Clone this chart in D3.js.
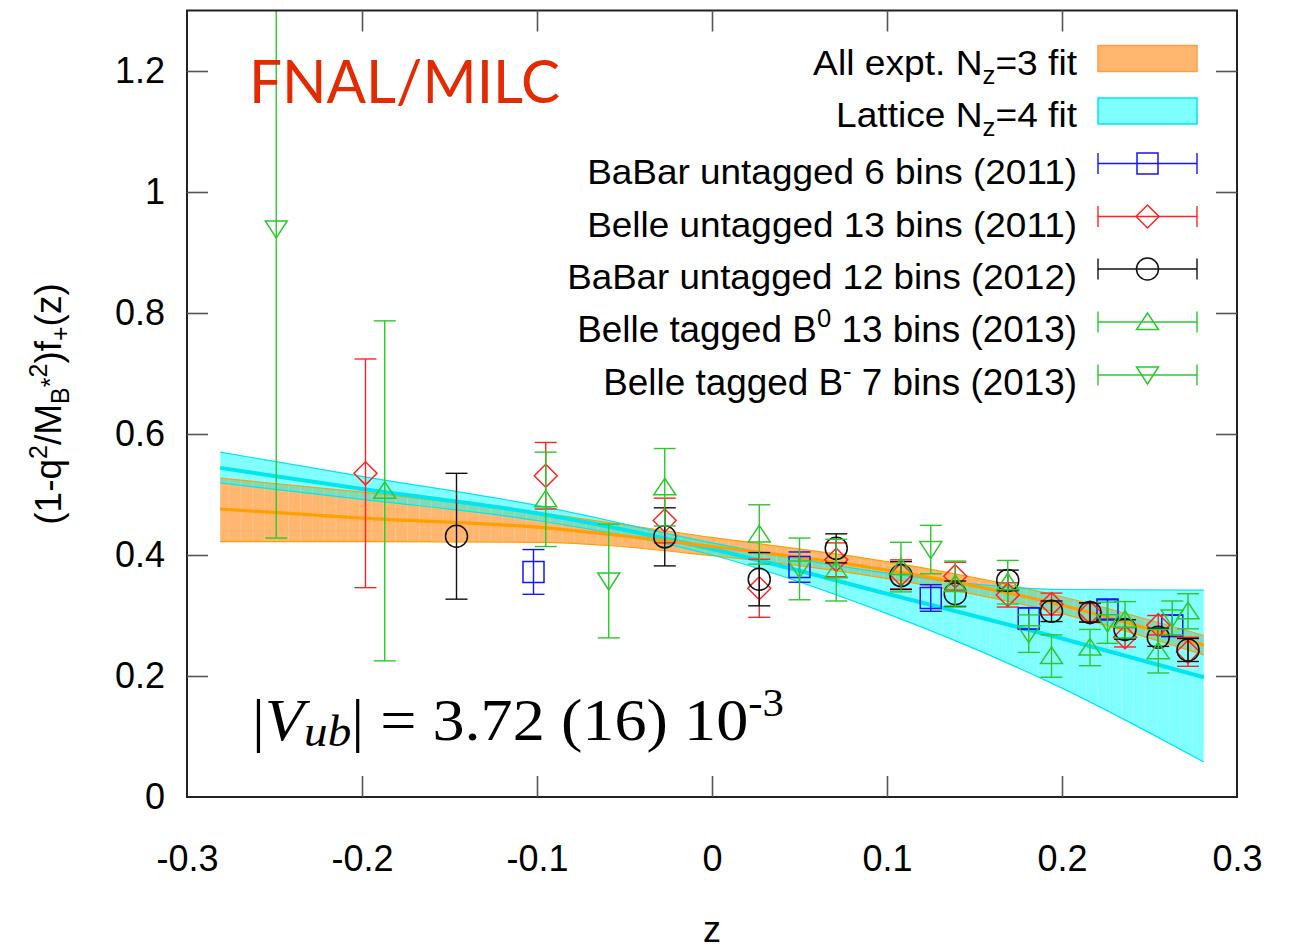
<!DOCTYPE html>
<html>
<head>
<meta charset="utf-8">
<script src="https://cdn.jsdelivr.net/npm/d3@7"></script>
<style>
  body { margin: 0; background: #fff; }
  svg { display: block; }
</style>
</head>
<body>
<svg id="chart" width="1294" height="949"></svg>
<script>
// ---- axis ticks ----
const xTickVals = [-0.3, -0.2, -0.1, 0, 0.1, 0.2, 0.3];
const xTickLabels = ["-0.3", "-0.2", "-0.1", "0", "0.1", "0.2", "0.3"];
const yTickVals = [0, 0.2, 0.4, 0.6, 0.8, 1, 1.2];
const yTickLabels = ["0", "0.2", "0.4", "0.6", "0.8", "1", "1.2"];

// ---- z-expansion fit bands (z, central value, upper, lower) ----
const fitZ = [-0.281, -0.2, -0.1, 0, 0.1, 0.2, 0.281];
const exptMid = [0.476, 0.461, 0.446, 0.414, 0.375, 0.317, 0.251];
const exptHi  = [0.527, 0.504, 0.470, 0.429, 0.389, 0.331, 0.267];
const exptLo  = [0.422, 0.422, 0.421, 0.399, 0.361, 0.303, 0.235];
const latMid  = [0.544, 0.509, 0.469, 0.410, 0.336, 0.262, 0.198];
const latHi   = [0.570, 0.530, 0.482, 0.420, 0.370, 0.343, 0.342];
const latLo   = [0.519, 0.492, 0.457, 0.400, 0.303, 0.180, 0.058];

// ---- experimental bins: z, (1-q^2/M_B*^2) f+, error ----
const babar11Z = [-0.102, 0.050, 0.125, 0.181, 0.226, 0.263];
const babar11F = [0.372, 0.380, 0.329, 0.295, 0.310, 0.283];
const babar11E = [0.037, 0.025, 0.022, 0.018, 0.016, 0.018];

const belle11Z = [-0.198, -0.095, -0.027, 0.027, 0.071, 0.108, 0.139, 0.169, 0.194, 0.216, 0.236, 0.255, 0.272];
const belle11F = [0.535, 0.531, 0.457, 0.345, 0.392, 0.368, 0.365, 0.334, 0.319, 0.305, 0.264, 0.284, 0.240];
const belle11E = [0.189, 0.055, 0.037, 0.048, 0.028, 0.024, 0.023, 0.020, 0.018, 0.015, 0.016, 0.016, 0.024];

const babar12Z = [-0.146, -0.027, 0.027, 0.071, 0.108, 0.139, 0.169, 0.194, 0.216, 0.236, 0.255, 0.272];
const babar12F = [0.431, 0.430, 0.360, 0.411, 0.366, 0.336, 0.358, 0.307, 0.305, 0.277, 0.264, 0.243];
const babar12E = [0.104, 0.048, 0.044, 0.024, 0.023, 0.021, 0.017, 0.017, 0.016, 0.016, 0.015, 0.019];

const belleB0Z = [-0.187, -0.095, -0.027, 0.027, 0.071, 0.108, 0.139, 0.169, 0.194, 0.216, 0.236, 0.255, 0.272];
const belleB0F = [0.506, 0.492, 0.512, 0.434, 0.375, 0.380, 0.352, 0.355, 0.233, 0.247, 0.293, 0.241, 0.307];
const belleB0E = [0.281, 0.078, 0.064, 0.049, 0.051, 0.041, 0.038, 0.036, 0.035, 0.030, 0.030, 0.036, 0.029];

const belleBmZ = [-0.249, -0.059, 0.050, 0.125, 0.181, 0.226, 0.263];
const belleBmF = [0.939, 0.357, 0.377, 0.409, 0.270, 0.288, 0.296];
const belleBmE = [0.511, 0.094, 0.051, 0.040, 0.031, 0.034, 0.028];

// ---- layout ----
const plotL = 187, plotR = 1237, plotT = 10.5, plotB = 797;
const svg = d3.select("#chart");
const x = d3.scaleLinear().domain([-0.3, 0.3]).range([plotL, plotR]);
const y = d3.scaleLinear().domain([0, 1.3]).range([plotB, plotT]);
const FONT = "'Liberation Sans', Arial, Helvetica, sans-serif";

svg.append("defs").append("clipPath").attr("id", "plotClip")
  .append("rect").attr("x", plotL).attr("y", plotT)
  .attr("width", plotR - plotL).attr("height", plotB - plotT);

const plot = svg.append("g").attr("clip-path", "url(#plotClip)");

// ---- fit bands ----
const bandData = (mid, hi, lo) => fitZ.map((z, i) => ({ z, m: mid[i], h: hi[i], l: lo[i] }));
const expt = bandData(exptMid, exptHi, exptLo);
const lat = bandData(latMid, latHi, latLo);
const curve = d3.curveMonotoneX;
const area = d3.area().x(d => x(d.z)).y0(d => y(d.l)).y1(d => y(d.h)).curve(curve);
const lineOf = key => d3.line().x(d => x(d.z)).y(d => y(d[key])).curve(curve);

const ORANGE_FILL = "#ffb66f", ORANGE_LINE = "#ffa000";
const CYAN_FILL = "#00ffff", CYAN_LINE = "#00e6f0";

plot.append("path").datum(expt).attr("d", area).attr("fill", ORANGE_FILL);
plot.append("path").datum(lat).attr("d", area).attr("fill", CYAN_FILL).attr("fill-opacity", 0.5);

// faint seams across the filled bands
const bandScale = arr => d3.scaleLinear().domain(fitZ).range(arr);
const eHi = bandScale(exptHi), eLo = bandScale(exptLo), lHi = bandScale(latHi), lLo = bandScale(latLo);
const seamZ = d3.range(-0.276, 0.281, 0.0068);
plot.append("g").selectAll("line").data(seamZ).join("line")
  .attr("x1", z => x(z)).attr("x2", z => x(z))
  .attr("y1", z => y(Math.max(eHi(z), lHi(z))) + 1)
  .attr("y2", z => y(Math.min(eLo(z), lLo(z))) - 1)
  .attr("stroke", "#fff").attr("stroke-opacity", 0.2).attr("stroke-width", 1);

// band edges
[["h", expt, ORANGE_LINE], ["l", expt, ORANGE_LINE], ["h", lat, CYAN_LINE], ["l", lat, CYAN_LINE]]
  .forEach(([k, d, c]) => plot.append("path").datum(d).attr("d", lineOf(k))
    .attr("fill", "none").attr("stroke", c).attr("stroke-width", 1.2));
// central curves
plot.append("path").datum(lat).attr("d", lineOf("m")).attr("fill", "none")
  .attr("stroke", CYAN_LINE).attr("stroke-width", 4);
plot.append("path").datum(expt).attr("d", lineOf("m")).attr("fill", "none")
  .attr("stroke", ORANGE_LINE).attr("stroke-width", 3.2);

// ---- symbols ----
function symbolPath(type) {
  switch (type) {
    case "square": return "M-10.5,-10.5H10.5V10.5H-10.5Z";
    case "circle": return "M11,0A11,11 0 1,1 -11,0A11,11 0 1,1 11,0Z";
    case "diamond": return "M0,-11.5L11.5,0L0,11.5L-11.5,0Z";
    case "up": return "M0,-9L11,7.5L-11,7.5Z";
    case "down": return "M0,9L11,-8L-11,-8Z";
  }
}

const series = [
  { z: babar11Z, f: babar11F, e: babar11E, color: "#1414ff", sym: "square" },
  { z: belle11Z, f: belle11F, e: belle11E, color: "#ff2424", sym: "diamond" },
  { z: babar12Z, f: babar12F, e: babar12E, color: "#111111", sym: "circle" },
  { z: belleB0Z, f: belleB0F, e: belleB0E, color: "#2ec82e", sym: "up" },
  { z: belleBmZ, f: belleBmF, e: belleBmE, color: "#2ec82e", sym: "down" }
];

const CAP = 11;
series.forEach(s => {
  const pts = s.z.map((z, i) => ({ z, f: s.f[i], e: s.e[i] }));
  const g = plot.append("g").attr("stroke", s.color).attr("fill", "none");
  const eb = g.selectAll("g.eb").data(pts).join("g").attr("class", "eb")
    .attr("stroke-width", 1.4);
  eb.append("line").attr("x1", d => x(d.z)).attr("x2", d => x(d.z))
    .attr("y1", d => y(d.f - d.e)).attr("y2", d => y(d.f + d.e));
  eb.append("line").attr("x1", d => x(d.z) - CAP).attr("x2", d => x(d.z) + CAP)
    .attr("y1", d => y(d.f + d.e)).attr("y2", d => y(d.f + d.e));
  eb.append("line").attr("x1", d => x(d.z) - CAP).attr("x2", d => x(d.z) + CAP)
    .attr("y1", d => y(d.f - d.e)).attr("y2", d => y(d.f - d.e));
  g.selectAll("path").data(pts).join("path")
    .attr("d", symbolPath(s.sym))
    .attr("transform", d => `translate(${x(d.z)},${y(d.f)})`)
    .attr("stroke-width", 1.5);
});

// ---- frame and axes ----
svg.append("rect").attr("x", plotL).attr("y", plotT)
  .attr("width", plotR - plotL).attr("height", plotB - plotT)
  .attr("fill", "none").attr("stroke", "#222").attr("stroke-width", 2);

const TICK = 21;
function styleAxis(g) {
  g.select(".domain").remove();
  g.selectAll(".tick line").attr("stroke", "#555").attr("stroke-width", 1.6);
  g.selectAll(".tick text").attr("font-family", FONT).attr("font-size", 36).attr("fill", "#000");
}
svg.append("g").attr("transform", `translate(0,${plotB})`)
  .call(d3.axisBottom(x).tickValues(xTickVals).tickFormat((d, i) => xTickLabels[i])
    .tickSizeInner(-TICK).tickSizeOuter(0).tickPadding(48))
  .call(styleAxis)
  .selectAll(".tick").filter(d => d === -0.3 || d === 0.3).select("line").remove();
svg.append("g").attr("transform", `translate(0,${plotT})`)
  .call(d3.axisTop(x).tickValues(xTickVals.slice(1, -1)).tickFormat("")
    .tickSizeInner(-TICK).tickSizeOuter(0))
  .call(styleAxis);
svg.append("g").attr("transform", `translate(${plotL},0)`)
  .call(d3.axisLeft(y).tickValues(yTickVals).tickFormat((d, i) => yTickLabels[i])
    .tickSizeInner(-TICK).tickSizeOuter(0).tickPadding(22))
  .call(styleAxis)
  .selectAll(".tick").filter(d => d === 0).select("line").remove();
svg.append("g").attr("transform", `translate(${plotR},0)`)
  .call(d3.axisRight(y).tickValues(yTickVals.slice(1)).tickFormat("")
    .tickSizeInner(-TICK).tickSizeOuter(0))
  .call(styleAxis);

// ---- helper: stretch a text node horizontally to a given width ----
function fitWidth(sel, width) {
  const w = sel.node().getBBox().width;
  const t = sel.attr("data-t") || "";
  sel.attr("transform", `${t} scale(${width / w},1)`);
}

// ---- axis titles ----
svg.append("text").attr("x", 712).attr("y", 942).attr("text-anchor", "middle")
  .attr("font-family", FONT).attr("font-size", 36).text("z");

const yt = svg.append("text").attr("font-family", FONT).attr("font-size", 37)
  .attr("text-anchor", "middle")
  .attr("transform", "translate(61,404) rotate(-90)");
yt.append("tspan").text("(1-q");
yt.append("tspan").attr("font-size", 25).attr("dy", -14).text("2");
yt.append("tspan").attr("dy", 14).text("/M");
yt.append("tspan").attr("font-size", 25).attr("dy", 8).text("B");
yt.append("tspan").attr("font-size", 25).attr("dy", -10).text("*");
yt.append("tspan").attr("font-size", 25).attr("dy", -12).text("2");
yt.append("tspan").attr("dy", 14).text(")f");
yt.append("tspan").attr("font-size", 25).attr("dy", 8).text("+");
yt.append("tspan").attr("dy", -8).text("(z)");

// ---- annotations ----
const fnal = svg.append("text").attr("font-family", "Lato, 'Open Sans', sans-serif")
  .attr("font-size", 60).attr("fill", "#e42a00").attr("data-t", "translate(249,103)")
  .text("FNAL/MILC");
fitWidth(fnal, 311);

const SERIF = "'Liberation Serif', 'Times New Roman', Times, serif";
const vub = svg.append("text").attr("font-family", SERIF).attr("font-size", 60)
  .attr("data-t", "translate(252,740)");
vub.append("tspan").text("|");
vub.append("tspan").attr("font-style", "italic").text("V");
vub.append("tspan").attr("font-style", "italic").attr("font-size", 44).attr("dy", 6).text("ub");
vub.append("tspan").attr("dy", -6).text("| = 3.72 (16) 10");
vub.append("tspan").attr("font-size", 40).attr("dy", -24).text("-3");
fitWidth(vub, 532);

// ---- legend ----
const LX0 = 1098, LX1 = 1197, LXT = 1077;
const legendRows = [58.5, 111, 163.5, 216.5, 269, 322, 375];
const legendWidths = [264, 241, 490, 490, 510, 500, 474];
const legendParts = [
  [["All expt. N"], ["z", "sub"], ["=3 fit"]],
  [["Lattice N"], ["z", "sub"], ["=4 fit"]],
  [["BaBar untagged 6 bins (2011)"]],
  [["Belle untagged 13 bins (2011)"]],
  [["BaBar untagged 12 bins (2012)"]],
  [["Belle tagged B"], ["0", "sup"], [" 13 bins (2013)"]],
  [["Belle tagged B"], ["-", "sup"], [" 7 bins (2013)"]]
];

function legendText(parts, row, width, off) {
  const t = svg.append("text").attr("font-family", FONT).attr("font-size", 36)
    .attr("text-anchor", "end").attr("data-t", `translate(${LXT},${row + off})`);
  let shift = 0;
  parts.forEach(([s, kind]) => {
    const sp = t.append("tspan").text(s);
    const target = kind === "sub" ? 9 : kind === "sup" ? -15 : 0;
    if (kind) sp.attr("font-size", 25);
    if (target !== shift) sp.attr("dy", target - shift);
    shift = target;
  });
  fitWidth(t, width);
}

const bandStyles = [
  { fill: ORANGE_FILL, stroke: "#ffa040", op: 1 },
  { fill: CYAN_FILL, stroke: CYAN_LINE, op: 0.5 }
];
bandStyles.forEach((b, i) => {
  const r = legendRows[i];
  svg.append("rect").attr("x", LX0).attr("y", r - 13).attr("width", LX1 - LX0).attr("height", 26)
    .attr("fill", b.fill).attr("fill-opacity", b.op).attr("stroke", b.stroke).attr("stroke-width", 1.5);
  legendText(legendParts[i], r, legendWidths[i], 16);
});

series.forEach((s, i) => {
  const r = legendRows[i + 2];
  const g = svg.append("g").attr("stroke", s.color).attr("fill", "none").attr("stroke-width", 1.4);
  g.append("line").attr("x1", LX0).attr("x2", LX1).attr("y1", r).attr("y2", r);
  g.append("line").attr("x1", LX0).attr("x2", LX0).attr("y1", r - 10.5).attr("y2", r + 10.5);
  g.append("line").attr("x1", LX1).attr("x2", LX1).attr("y1", r - 10.5).attr("y2", r + 10.5);
  g.append("path").attr("d", symbolPath(s.sym)).attr("transform", `translate(${(LX0 + LX1) / 2},${r})`)
    .attr("stroke-width", 1.5);
  legendText(legendParts[i + 2], r, legendWidths[i + 2], 20);
});
</script>
</body>
</html>
